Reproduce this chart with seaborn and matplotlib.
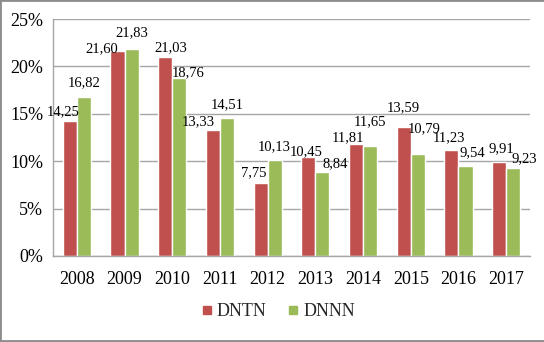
import matplotlib
matplotlib.use("Agg")
import matplotlib.pyplot as plt
import seaborn as sns
import pandas as pd
from matplotlib.ticker import PercentFormatter, FixedLocator
from matplotlib.lines import Line2D

years = ["2008", "2009", "2010", "2011", "2012", "2013", "2014", "2015", "2016", "2017"]
series_names = ["DNTN", "DNNN"]
dntn = [14.25, 21.60, 21.03, 13.33, 7.75, 10.45, 11.81, 13.59, 11.23, 9.91]
dnnn = [16.82, 21.83, 18.76, 14.51, 10.13, 8.84, 11.65, 10.79, 9.54, 9.23]

# label nudges (pixels) to mimic the original label placement
dx_red = [-7, -16, 6, -15, -7, -2, -8, 0, -2, 2]
dy_red = [9, 3, 9, 8, 9.5, 5, 6, 19, 12, 13]
dx_green = [0, 0, 9, 0, 0, 13, 0, 6, 7, 11]
dy_green = [14, 16, 5, 13.5, 13, 9, 24, 25, 13, 10]

colors = ["#C0504D", "#9BBB59"]

df = pd.DataFrame({
    "year": years * 2,
    "value": dntn + dnnn,
    "series": [series_names[0]] * len(years) + [series_names[1]] * len(years),
})

sns.set_theme(style="white")
plt.rcParams["font.family"] = ["Liberation Serif", "DejaVu Serif"]

fig = plt.figure(figsize=(5.44, 3.42), dpi=100)
ax = fig.add_axes([53 / 544, 86 / 342, (530 - 53) / 544, (256 - 19) / 342])

sns.barplot(data=df, x="year", y="value", hue="series", palette=colors,
            width=0.59, gap=0, saturation=1, ax=ax, legend=False)

ax.set_ylim(0, 25)
ax.set_xlim(-0.5, len(years) - 0.5)
ax.set_yticks([0, 5, 10, 15, 20, 25])
ax.yaxis.set_major_formatter(PercentFormatter(decimals=0))
ax.grid(axis="y", color="#A6A6A6", linewidth=1.0)
ax.set_axisbelow(True)
ax.set_xlabel("")
ax.set_ylabel("")

for s in ["top", "right"]:
    ax.spines[s].set_visible(False)
for s in ["left", "bottom"]:
    ax.spines[s].set_color("#A6A6A6")
    ax.spines[s].set_linewidth(1.0)

ax.tick_params(axis="x", which="major", length=0, labelsize=13, pad=11, labelcolor="black")
ax.xaxis.set_minor_locator(FixedLocator([i - 0.5 for i in range(len(years) + 1)]))
ax.tick_params(axis="x", which="minor", length=5, color="#A6A6A6", width=1)
ax.tick_params(axis="y", length=4, color="#A6A6A6", labelsize=13, pad=3, labelcolor="black")

for cont, dxs, dys in [(ax.containers[0], dx_red, dy_red), (ax.containers[1], dx_green, dy_green)]:
    for bar, dx, dy in zip(cont, dxs, dys):
        h = bar.get_height()
        ax.annotate(f"{h:.2f}".replace(".", ","),
                    (bar.get_x() + bar.get_width() / 2, h),
                    xytext=(dx, dy), textcoords="offset pixels",
                    ha="center", va="center", fontsize=10.5, color="black",
                    annotation_clip=False)

handles = [Line2D([], [], marker="s", linestyle="", markersize=5.5,
                  markerfacecolor=c, markeredgecolor=c) for c in colors]
fig.legend(handles, series_names, loc="center", bbox_to_anchor=(0.508, 0.088),
           ncol=2, frameon=False, fontsize=13, handletextpad=0.05, columnspacing=1.0,
           handlelength=1.0)

# figure border (top, left, bottom)
border = dict(color="#8C8C8C", linewidth=2, transform=fig.transFigure)
fig.add_artist(Line2D([0, 1], [1, 1], **border))
fig.add_artist(Line2D([0, 0], [0, 1], **border))
fig.add_artist(Line2D([0, 1], [0.003, 0.003], **border))

fig.savefig("out.png", dpi=100)
